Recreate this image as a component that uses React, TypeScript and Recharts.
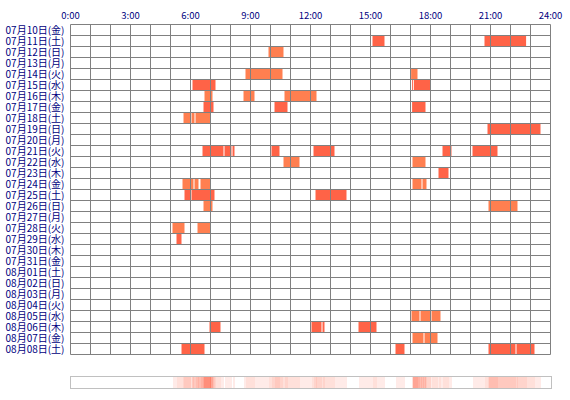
import { BarChart, Bar, XAxis, YAxis, Cell, ReferenceLine } from 'recharts';

const days = [
  '07月10日(金)', '07月11日(土)', '07月12日(日)', '07月13日(月)', '07月14日(火)',
  '07月15日(水)', '07月16日(木)', '07月17日(金)', '07月18日(土)', '07月19日(日)',
  '07月20日(月)', '07月21日(火)', '07月22日(水)', '07月23日(木)', '07月24日(金)',
  '07月25日(土)', '07月26日(日)', '07月27日(月)', '07月28日(火)', '07月29日(水)',
  '07月30日(木)', '07月31日(金)', '08月01日(土)', '08月02日(日)', '08月03日(月)',
  '08月04日(火)', '08月05日(水)', '08月06日(木)', '08月07日(金)', '08月08日(土)',
];

// [start hour, end hour, kind]  d = dark, l = light
type Seg = [number, number, 'd' | 'l'];
const sessions: Seg[][] = [
  [],
  [[15.1, 15.7, 'd'], [20.7, 22.78, 'd']],
  [[9.9, 10.65, 'l']],
  [],
  [[8.75, 10.6, 'l'], [17.03, 17.35, 'l']],
  [[6.1, 7.25, 'd'], [17.08, 17.13, 'd'], [17.17, 18.0, 'd']],
  [[6.7, 7.1, 'l'], [8.65, 9.2, 'l'], [10.7, 12.3, 'l']],
  [[6.65, 7.15, 'd'], [10.2, 10.85, 'd'], [17.08, 17.75, 'd']],
  [[5.65, 6.0, 'l'], [6.05, 6.2, 'l'], [6.25, 7.0, 'l']],
  [[20.85, 23.5, 'd']],
  [],
  [[6.6, 7.65, 'd'], [7.7, 8.05, 'd'], [8.1, 8.2, 'd'], [10.05, 10.45, 'd'], [12.15, 13.2, 'd'], [18.6, 19.05, 'd'], [20.1, 21.35, 'd']],
  [[10.65, 11.45, 'l'], [17.1, 17.75, 'l']],
  [[18.4, 18.9, 'd']],
  [[5.6, 6.15, 'l'], [6.2, 6.4, 'l'], [6.5, 7.0, 'l'], [17.1, 17.55, 'l'], [17.6, 17.8, 'l']],
  [[5.7, 6.0, 'd'], [6.05, 7.2, 'd'], [12.25, 13.8, 'd']],
  [[6.65, 7.1, 'l'], [20.9, 22.35, 'l']],
  [],
  [[5.1, 5.7, 'l'], [6.35, 7.0, 'l']],
  [[5.3, 5.55, 'd']],
  [],
  [],
  [],
  [],
  [],
  [],
  [[17.05, 17.45, 'l'], [17.5, 18.0, 'l'], [18.05, 18.5, 'l']],
  [[6.95, 7.5, 'd'], [12.05, 12.55, 'd'], [12.6, 12.7, 'd'], [14.4, 15.3, 'd']],
  [[17.1, 17.65, 'l'], [17.7, 18.35, 'l']],
  [[5.55, 6.7, 'd'], [16.25, 16.7, 'd'], [20.9, 22.25, 'd'], [22.3, 23.2, 'd']],
];

const hourTicks = Array.from({ length: 25 }, (_, i) => i);
const labelTicks = [0, 3, 6, 9, 12, 15, 18, 21, 24];
const rowTicks = Array.from({ length: days.length + 1 }, (_, i) => i);

const DARK = '#ff6347';
const LIGHT = '#ff7f50';
const NAVY = '#000080';
const GRID = '#808080';
const FONT = '"Noto Sans CJK JP", sans-serif';

const maxSeg = Math.max(...sessions.map((s) => s.length));

const rows = days.map((day, i) => {
  const row: Record<string, unknown> = { day, gx: 0, gy: 0 };
  sessions[i].forEach(([s, e], k) => {
    row['s' + k] = [s, e];
  });
  return row;
});

// usage strip: how many days are active in each 3-minute slot
const SLOTS = 480;
const heat = Array.from({ length: SLOTS }, (_, j) => {
  const t = ((j + 0.5) * 24) / SLOTS;
  const c = sessions.filter((day) => day.some(([s, e]) => t >= s && t < e)).length;
  return { t: j, v: 1, c };
});

const heatAlpha = (c: number) => (c === 0 ? 0 : Math.min(0.85, 0.05 + 0.075 * c));

const W = 570;
const H = 400;

export default function App() {
  const xTick = { fill: NAVY, fontSize: 9.5, fontFamily: FONT };
  const yTick = { fill: NAVY, fontSize: 10, fontFamily: FONT };
  return (
    <div style={{ position: 'absolute', left: 0, top: 0, width: W, height: H, background: '#fff' }}>
      <div style={{ position: 'absolute', left: 0, top: 0 }}>
        <BarChart
          width={W}
          height={H}
          data={rows}
          layout="vertical"
          barCategoryGap={0}
          barGap={-10.99}
          margin={{ top: 4.5, left: 4.5, right: 19.5, bottom: 25.5 }}
        >
          <XAxis
            type="number"
            orientation="top"
            domain={[0, 24]}
            ticks={labelTicks}
            tickFormatter={(h: number) => `${h}:00`}
            axisLine={false}
            tickLine={false}
            tickMargin={0}
            height={20}
            tick={xTick}
            interval={0}
          />
          <XAxis
            xAxisId="bottom"
            type="number"
            orientation="bottom"
            domain={[0, 24]}
            ticks={labelTicks}
            tickFormatter={(h: number) => `${h}:00`}
            axisLine={false}
            tickLine={false}
            tickMargin={0}
            height={20}
            tick={xTick}
            interval={0}
          />
          <YAxis
            type="category"
            dataKey="day"
            width={66}
            axisLine={false}
            tickLine={false}
            tickMargin={0}
            interval={0}
            tick={yTick}
          />
          {Array.from({ length: maxSeg }, (_, k) => (
            <Bar key={k} dataKey={'s' + k} barSize={10.99} isAnimationActive={false}>
              {rows.map((_, i) => (
                <Cell key={i} fill={sessions[i][k] && sessions[i][k][2] === 'l' ? LIGHT : DARK} />
              ))}
            </Bar>
          ))}
        </BarChart>
      </div>
      {/* grid drawn on top of the bars */}
      <div style={{ position: 'absolute', left: 0, top: 0, pointerEvents: 'none' }}>
        <BarChart
          width={W}
          height={H}
          data={rows}
          margin={{ top: 24.5, left: 70.5, right: 19.5, bottom: 45.5 }}
        >
          <XAxis
            type="number"
            dataKey="gx"
            domain={[0, 24]}
            ticks={hourTicks}
            height={0}
            tick={false}
            tickLine={false}
            axisLine={false}
          />
          <YAxis
            type="number"
            dataKey="gy"
            domain={[0, days.length]}
            ticks={rowTicks}
            width={0}
            tick={false}
            tickLine={false}
            axisLine={false}
          />
          {hourTicks.map((h) => (
            <ReferenceLine key={'h' + h} x={h} stroke={GRID} strokeWidth={1} />
          ))}
          {rowTicks.map((r) => (
            <ReferenceLine key={'r' + r} y={r} stroke={GRID} strokeWidth={1} />
          ))}
        </BarChart>
      </div>
      <div
        style={{
          position: 'absolute',
          left: 70,
          top: 376,
          width: 480,
          height: 11,
          border: '1px solid #c0c0c0',
        }}
      >
        <BarChart width={480} height={11} data={heat} barCategoryGap={0} margin={{ top: 0, left: 0, right: 0, bottom: 0 }}>
          <XAxis dataKey="t" hide />
          <YAxis domain={[0, 1]} hide />
          <Bar dataKey="v" isAnimationActive={false}>
            {heat.map((d, i) => (
              <Cell key={i} fill={DARK} fillOpacity={heatAlpha(d.c)} />
            ))}
          </Bar>
        </BarChart>
      </div>
    </div>
  );
}
